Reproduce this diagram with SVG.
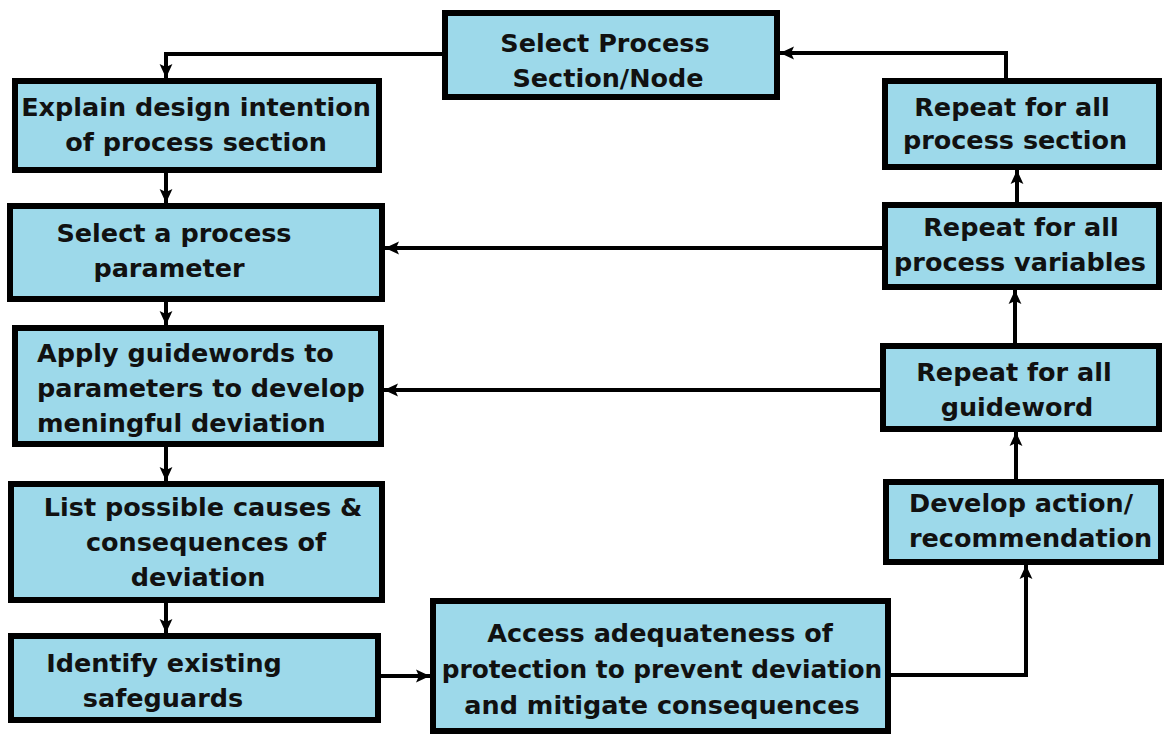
<svg xmlns="http://www.w3.org/2000/svg" width="1166" height="734" viewBox="0 0 1166 734">
<style>
.box{fill:#9dd9ea;stroke:#000;stroke-width:6}
.t{font-family:"DejaVu Sans","Liberation Sans",sans-serif;font-weight:bold;font-size:25.5px;fill:#111}
.m{text-anchor:middle}
.c{fill:none;stroke:#000;stroke-width:4}
</style>
<defs>
<marker id="ah" viewBox="0 0 12 12" refX="12" refY="6" markerWidth="14" markerHeight="14" markerUnits="userSpaceOnUse" orient="auto">
<path d="M0,0.5 L12,6 L0,11.5 L2.5,6 z" fill="#000"/>
</marker>
</defs>
<rect width="1166" height="734" fill="#fff"/>
<g id="connectors">
<path class="c" d="M442,54 H166 V78" marker-end="url(#ah)"/>
<path class="c" d="M166,173 V203" marker-end="url(#ah)"/>
<path class="c" d="M166,302 V325" marker-end="url(#ah)"/>
<path class="c" d="M166,447 V481" marker-end="url(#ah)"/>
<path class="c" d="M166,603 V633" marker-end="url(#ah)"/>
<path class="c" d="M381,676 H430" marker-end="url(#ah)"/>
<path class="c" d="M891,675 H1026 V565" marker-end="url(#ah)"/>
<path class="c" d="M1016,479 V432" marker-end="url(#ah)"/>
<path class="c" d="M880,390 H384" marker-end="url(#ah)"/>
<path class="c" d="M1015,343 V290" marker-end="url(#ah)"/>
<path class="c" d="M882,248 H385" marker-end="url(#ah)"/>
<path class="c" d="M1017,202 V170" marker-end="url(#ah)"/>
<path class="c" d="M1006,78 V53 H780" marker-end="url(#ah)"/>
</g>
<g id="node-select-section">
<rect class="box" x="445" y="13" width="332" height="84"/>
<text class="t m" x="605" y="52">Select Process</text>
<text class="t m" x="608" y="87">Section/Node</text>
</g>
<g id="node-explain">
<rect class="box" x="15" y="81" width="364" height="89"/>
<text class="t m" x="196" y="116">Explain design intention</text>
<text class="t m" x="196" y="151">of process section</text>
</g>
<g id="node-select-parameter">
<rect class="box" x="10" y="206" width="372" height="93"/>
<text class="t m" x="174" y="242">Select a process</text>
<text class="t m" x="169" y="277">parameter</text>
</g>
<g id="node-apply-guidewords">
<rect class="box" x="15" y="328" width="366" height="116"/>
<text class="t" x="37" y="362">Apply guidewords to</text>
<text class="t" x="37" y="397">parameters to develop</text>
<text class="t" x="37" y="432">meningful deviation</text>
</g>
<g id="node-list-causes">
<rect class="box" x="11" y="484" width="371" height="116"/>
<text class="t m" x="203" y="516">List possible causes &amp;</text>
<text class="t m" x="206" y="551">consequences of</text>
<text class="t m" x="198" y="586">deviation</text>
</g>
<g id="node-identify-safeguards">
<rect class="box" x="11" y="636" width="367" height="84"/>
<text class="t m" x="164" y="672">Identify existing</text>
<text class="t m" x="163" y="707">safeguards</text>
</g>
<g id="node-access-adequateness">
<rect class="box" x="433" y="601" width="455" height="130"/>
<text class="t m" x="660" y="642">Access adequateness of</text>
<text class="t m" x="662" y="678" style="font-size:24.8px">protection to prevent deviation</text>
<text class="t m" x="662" y="714">and mitigate consequences</text>
</g>
<g id="node-develop-action">
<rect class="box" x="886" y="482" width="275" height="80"/>
<text class="t" x="909" y="512">Develop action/</text>
<text class="t" x="909" y="547">recommendation</text>
</g>
<g id="node-repeat-guideword">
<rect class="box" x="883" y="346" width="276" height="83"/>
<text class="t m" x="1014" y="381">Repeat for all</text>
<text class="t m" x="1017" y="416">guideword</text>
</g>
<g id="node-repeat-variables">
<rect class="box" x="885" y="205" width="274" height="82"/>
<text class="t m" x="1021" y="236">Repeat for all</text>
<text class="t m" x="1020" y="271">process variables</text>
</g>
<g id="node-repeat-section">
<rect class="box" x="885" y="81" width="274" height="86"/>
<text class="t m" x="1012" y="116">Repeat for all</text>
<text class="t m" x="1015" y="149">process section</text>
</g>
</svg>
